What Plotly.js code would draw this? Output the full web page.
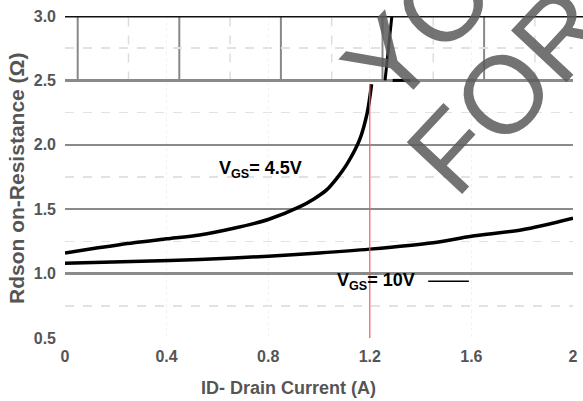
<!DOCTYPE html>
<html>
<head>
<meta charset="utf-8">
<script src="https://cdn.plot.ly/plotly-3.0.1.min.js"></script>
<style>html,body{margin:0;padding:0;background:#fff;}#chart{width:583px;height:401px;}</style>
</head>
<body>
<div id="chart"></div>
<script>
// ---- data ----
const currentVgs45 = [0, 0.13, 0.27, 0.4, 0.53, 0.66, 0.8, 0.925, 0.98, 1.03, 1.07, 1.11, 1.16, 1.19, 1.207];
const rdsonVgs45   = [1.16, 1.20, 1.24, 1.27, 1.30, 1.35, 1.42, 1.52, 1.58, 1.65, 1.74, 1.85, 2.04, 2.25, 2.47];
const currentVgs45Upper = [1.26, 1.287, null, 1.29, 1.36];
const rdsonVgs45Upper   = [2.5, 3.0, null, 2.5, 2.5];
const currentVgs10 = [0, 0.3, 0.53, 0.8, 1.0, 1.2, 1.45, 1.6, 1.8, 2.0];
const rdsonVgs10   = [1.08, 1.095, 1.11, 1.135, 1.16, 1.19, 1.24, 1.29, 1.34, 1.43];
const markerCurrent = 1.2;
const xTickVals = [0, 0.4, 0.8, 1.2, 1.6, 2];
const xTickText = ['0', '0.4', '0.8', '1.2', '1.6', '2'];
const yTickVals = [0.5, 1.0, 1.5, 2.0, 2.5, 3.0];
const yTickText = ['0.5', '1.0', '1.5', '2.0', '2.5', '3.0'];
const labelVgs45 = 'V<sub>GS</sub>= 4.5V';
const labelVgs10 = 'V<sub>GS</sub>= 10V';
const xTitle = 'ID- Drain Current (A)';
const yTitle = 'Rdson on-Resistance (\u03a9)';

const FONT = 'Liberation Sans, Arial, sans-serif';
const axisFont = {family: FONT, size: 16, color: '#555', weight: 'bold'};
const lineStyle = {color: '#000', width: 3.5, shape: 'spline', smoothing: 0.8};
const wmFont = {family: FONT, size: 110, color: 'rgba(90,90,90,0.85)'};

const traces = [
  {x: currentVgs45, y: rdsonVgs45, mode: 'lines', line: lineStyle, hoverinfo: 'skip', showlegend: false},
  {x: currentVgs45Upper, y: rdsonVgs45Upper, mode: 'lines', line: {color: '#000', width: 3}, connectgaps: false, hoverinfo: 'skip', showlegend: false},
  {x: currentVgs10, y: rdsonVgs10, mode: 'lines', line: lineStyle, hoverinfo: 'skip', showlegend: false}
];

const topV = [];
[0.05, 0.45, 0.85, 1.25, 1.65].forEach(v => topV.push({type: 'line', xref: 'x', yref: 'y', x0: v, x1: v, y0: 2.5, y1: 3.0, line: {color: '#888', width: 2}, layer: 'below'}));
[0.25, 0.65, 1.05, 1.45, 1.85].forEach(v => topV.push({type: 'line', xref: 'x', yref: 'y', x0: v, x1: v, y0: 2.5, y1: 3.0, line: {color: '#ddd', width: 1.5, dash: 'dash'}, layer: 'below'}));

const layout = {
  width: 583, height: 401,
  margin: {l: 65, r: 10, t: 16, b: 63},
  paper_bgcolor: '#fff', plot_bgcolor: '#fff',
  showlegend: false,
  xaxis: {
    range: [0, 2], tickvals: xTickVals, ticktext: xTickText,
    showline: false, zeroline: false,
    showgrid: true, gridcolor: '#f2f2f2', gridwidth: 1, griddash: 'dot',
    tickfont: axisFont, ticklabelstandoff: 7
  },
  yaxis: {
    range: [0.5, 3.0], tickvals: yTickVals, ticktext: yTickText,
    showline: false, zeroline: false,
    showgrid: true, gridcolor: '#8a8a8a', gridwidth: 2.5,
    minor: {dtick: 0.25, tick0: 0.5, showgrid: true, gridcolor: '#e2e2e2', griddash: 'dash', gridwidth: 1.5},
    tickfont: axisFont, ticklabelstandoff: 8
  },
  shapes: topV.concat([
    {type: 'line', xref: 'paper', yref: 'y', x0: 0, x1: 1.03, y0: 3.0, y1: 3.0, line: {color: '#111', width: 3}},
    {type: 'line', xref: 'x', yref: 'y', x0: markerCurrent, x1: markerCurrent, y0: 0.5, y1: rdsonVgs45[rdsonVgs45.length - 1], line: {color: '#e8605a', width: 1.2}},
    {type: 'line', xref: 'x', yref: 'y', x0: 1.43, x1: 1.59, y0: 0.94, y1: 0.94, line: {color: '#000', width: 1.5}}
  ]),
  annotations: [
    {x: 0.439, y: -0.155, xref: 'paper', yref: 'paper', xanchor: 'center', yanchor: 'middle', text: xTitle, showarrow: false, font: {family: FONT, size: 18, color: '#555', weight: 'bold'}},
    {x: -0.0945, y: 0.497, xref: 'paper', yref: 'paper', xanchor: 'center', yanchor: 'middle', text: yTitle, textangle: -90, showarrow: false, font: {family: FONT, size: 21, color: '#555', weight: 'bold'}},
    {x: 0.768, y: 1.81, xref: 'x', yref: 'y', text: labelVgs45, showarrow: false, font: {family: FONT, size: 18, color: '#000', weight: 'bold'}},
    {x: 1.225, y: 0.935, xref: 'x', yref: 'y', text: labelVgs10, showarrow: false, font: {family: FONT, size: 18, color: '#000', weight: 'bold'}},
    {x: 1.74, y: 2.43, xref: 'x', yref: 'y', text: 'FOR', textangle: -47, showarrow: false, font: wmFont},
    {x: 1.39, y: 2.9, xref: 'x', yref: 'y', text: 'YO', textangle: -47, showarrow: false, font: wmFont}
  ]
};

Plotly.newPlot('chart', traces, layout, {staticPlot: true, displayModeBar: false});
</script>
</body>
</html>
